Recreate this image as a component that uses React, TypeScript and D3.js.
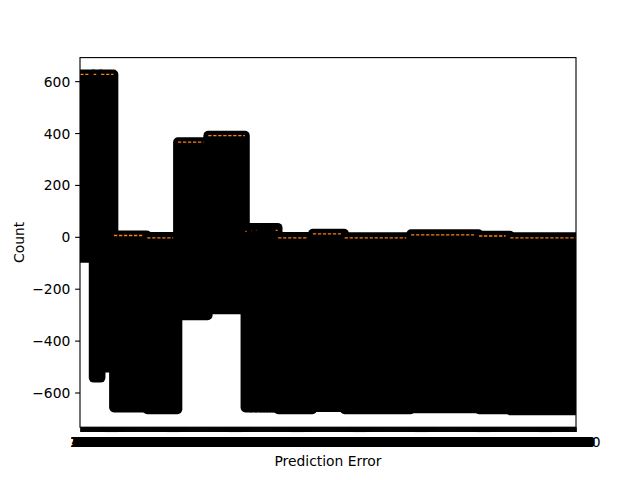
import { useEffect, useRef } from "react";
import * as d3 from "d3";

// box positions 1..N, default positional labels
const N = 1000;
const categories = d3.range(1, N + 1);
const tickLabels = categories.map((c) => c.toFixed(1));
const yTicks = [-600, -400, -200, 0, 200, 400, 600];

// runs of neighbouring boxes that look alike (first box, last box, median, highest and lowest flier)
const blockStart = [1, 28, 43, 69, 136, 198, 259, 334, 346, 356, 366, 372, 378, 384, 389, 395, 400, 470, 534, 668, 805, 868];
const blockEnd = [27, 42, 68, 135, 197, 258, 333, 345, 355, 365, 371, 377, 383, 388, 394, 399, 469, 533, 667, 804, 867, 1000];
const blockMedian = [626, 626, 626, 5, -4, 365, 390, 21, 24, 25, 15, 11, 15, 31, 34, 25, -4, 11.5, -4, 7.7, 3, -4];
const blockMax = [626, 626, 626, 6, 0, 365, 390, 35, 35, 35, 35, 35, 35, 35, 35, 35, 0, 12, -1, 10, 5, -1];
const blockMin = [-81, -543, -504, -658, -665, -303, -280, -658, -658, -658, -658, -658, -658, -658, -658, -658, -665, -656, -665, -661, -665, -669];

export default function App() {
  const svgRef = useRef<SVGSVGElement | null>(null);
  const width = 640;
  const height = 480;
  const left = 80;
  const right = 576;
  const top = 57.6;
  const bottom = 427.2;
  const font = "DejaVu Sans";
  const fontSize = 13.89;

  const renderChart = () => {
    const x = d3.scaleLinear().domain([0.5, N + 0.5]).range([left, right]);
    const lo = d3.min(blockMin) || 0;
    const hi = d3.max(blockMax) || 0;
    const pad = (hi - lo) * 0.05;
    const y = d3.scaleLinear().domain([lo - pad, hi + pad]).range([bottom, top]);

    const svg = d3.select(svgRef.current);
    svg.selectAll("*").remove();

    svg.append("rect").attr("width", width).attr("height", height).attr("fill", "white");

    svg
      .append("defs")
      .append("clipPath")
      .attr("id", "plot-area")
      .append("rect")
      .attr("x", left)
      .attr("y", top)
      .attr("width", right - left)
      .attr("height", bottom - top);

    // flier circles (r ~4.9px incl. edge) pile up into solid black columns
    const r = 4.86;
    const plot = svg.append("g").attr("clip-path", "url(#plot-area)");
    blockStart.forEach((s, i) => {
      const e = blockEnd[i];
      plot
        .append("rect")
        .attr("x", x(s) - r)
        .attr("width", x(e) - x(s) + 2 * r)
        .attr("y", y(blockMax[i]) - r)
        .attr("height", y(blockMin[i]) - y(blockMax[i]) + 2 * r)
        .attr("rx", r)
        .attr("fill", "black");
      plot
        .append("line")
        .attr("x1", x(s))
        .attr("x2", x(e))
        .attr("y1", y(blockMedian[i]))
        .attr("y2", y(blockMedian[i]))
        .attr("stroke", "#ff7f0e")
        .attr("stroke-width", 1.39)
        .attr("stroke-dasharray", "3.3 1.7");
    });

    // y axis
    const yAxis = svg
      .append("g")
      .attr("transform", `translate(${left},0)`)
      .call(d3.axisLeft(y).tickValues(yTicks).tickSize(4.86).tickPadding(4.86).tickSizeOuter(0));
    yAxis.select(".domain").remove();
    yAxis.selectAll("line").attr("stroke-width", 1.11);
    yAxis.selectAll("text").attr("font-family", font).attr("font-size", fontSize).attr("dy", "0.36em");

    // x axis, one tick per box
    const xAxis = svg
      .append("g")
      .attr("transform", `translate(0,${bottom})`)
      .call(
        d3
          .axisBottom(x)
          .tickValues(categories)
          .tickFormat((_, i) => tickLabels[i])
          .tickSize(4.86)
          .tickPadding(4.86)
          .tickSizeOuter(0)
      );
    xAxis.select(".domain").remove();
    xAxis.selectAll("line").attr("stroke-width", 1.11);
    xAxis.selectAll("text").attr("font-family", font).attr("font-size", fontSize);

    // spines
    svg
      .append("rect")
      .attr("x", left)
      .attr("y", top)
      .attr("width", right - left)
      .attr("height", bottom - top)
      .attr("fill", "none")
      .attr("stroke", "black")
      .attr("stroke-width", 1.11);

    svg
      .append("text")
      .attr("x", (left + right) / 2)
      .attr("y", 466)
      .attr("text-anchor", "middle")
      .attr("font-family", font)
      .attr("font-size", fontSize)
      .text("Prediction Error");

    svg
      .append("text")
      .attr("transform", `translate(23.5,${(top + bottom) / 2}) rotate(-90)`)
      .attr("text-anchor", "middle")
      .attr("font-family", font)
      .attr("font-size", fontSize)
      .text("Count");
  };

  useEffect(() => {
    renderChart();
  }, []);

  return (
    <svg
      ref={svgRef}
      width={width}
      height={height}
      style={{ position: "absolute", left: 0, top: 0 }}
    />
  );
}
